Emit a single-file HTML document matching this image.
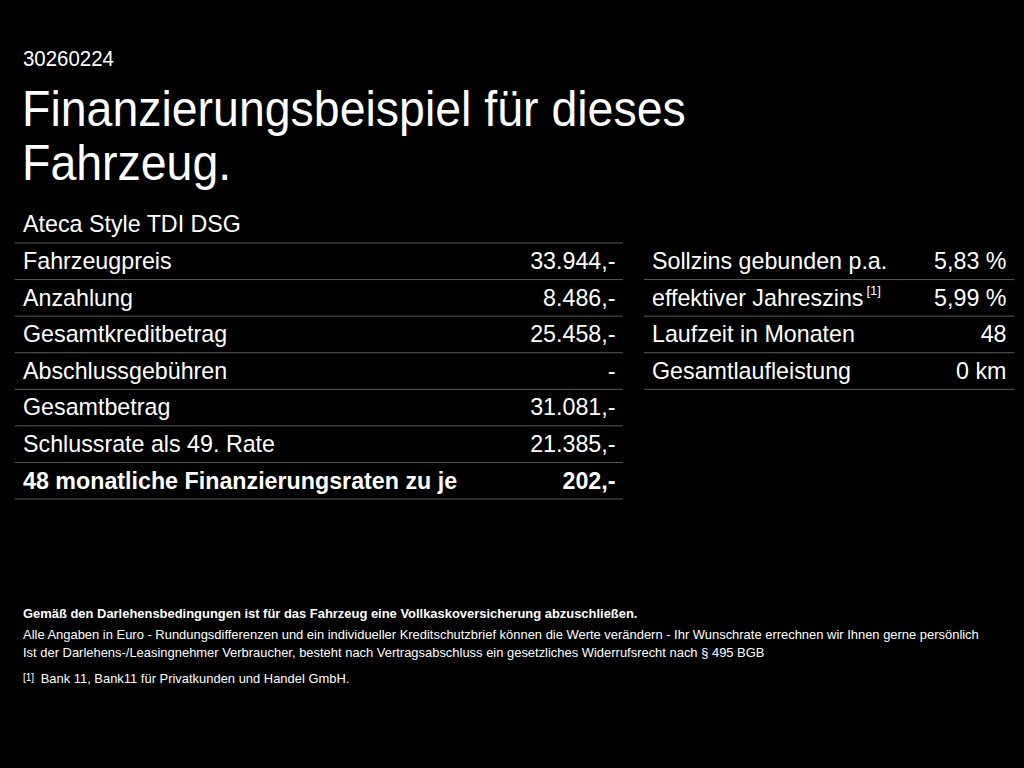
<!DOCTYPE html>
<html>
<head>
<meta charset="utf-8">
<style>
html,body{margin:0;padding:0;background:#000;width:1024px;height:768px;overflow:hidden}
body{position:relative;color:#fff;font-family:"Liberation Sans",sans-serif}
.a{position:absolute;white-space:nowrap;line-height:1}
.id{left:23px;top:48.5px;font-size:21.4px;transform-origin:0 0;transform:scaleX(0.955)}
.t{left:22px;font-size:49.5px;transform-origin:0 0;transform:scaleX(0.9386)}
.t1{top:84px}
.t2{top:138px}
.h{left:23px;top:213px;font-size:23.25px}
.lines{position:absolute;left:0;top:0}
.c{position:absolute;font-size:23.25px;margin-top:1.5px;line-height:1;white-space:nowrap}
.cl{left:23px}
.cr{right:408.5px;text-align:right}
.rl{left:652px}
.rr{right:17.5px;text-align:right}
.b{font-weight:bold}
sup.s{font-size:13px;vertical-align:0;position:relative;top:-11px;margin-left:3px}
.f{position:absolute;left:23px;font-size:12.95px;margin-top:1px;line-height:1;white-space:nowrap}
</style>
</head>
<body>
<div class="a id">30260224</div>
<div class="a t t1">Finanzierungsbeispiel für dieses</div>
<div class="a t t2">Fahrzeug.</div>
<div class="a h">Ateca Style TDI DSG</div>



<svg class="lines" width="1024" height="768" viewBox="0 0 1024 768" fill="#5a5a5a"><rect x="14.8" y="242.50" width="608" height="1"/><rect x="14.8" y="279.07" width="608" height="1"/><rect x="643.8" y="279.07" width="370.6" height="1"/><rect x="14.8" y="315.64" width="608" height="1"/><rect x="643.8" y="315.64" width="370.6" height="1"/><rect x="14.8" y="352.21" width="608" height="1"/><rect x="643.8" y="352.21" width="370.6" height="1"/><rect x="14.8" y="388.79" width="608" height="1"/><rect x="643.8" y="388.79" width="370.6" height="1"/><rect x="14.8" y="425.36" width="608" height="1"/><rect x="14.8" y="461.93" width="608" height="1"/><rect x="14.8" y="498.50" width="608" height="1"/></svg>
<div class="c cl" style="top:248px">Fahrzeugpreis</div>
<div class="c cr" style="top:248px">33.944,-</div>
<div class="c cl" style="top:285px">Anzahlung</div>
<div class="c cr" style="top:285px">8.486,-</div>
<div class="c cl" style="top:321px">Gesamtkreditbetrag</div>
<div class="c cr" style="top:321px">25.458,-</div>
<div class="c cl" style="top:358px">Abschlussgebühren</div>
<div class="c cr" style="top:358px">-</div>
<div class="c cl" style="top:394px">Gesamtbetrag</div>
<div class="c cr" style="top:394px">31.081,-</div>
<div class="c cl" style="top:431px">Schlussrate als 49. Rate</div>
<div class="c cr" style="top:431px">21.385,-</div>
<div class="c cl b" style="top:468px">48 monatliche Finanzierungsraten zu je</div>
<div class="c cr b" style="top:468px">202,-</div>

<div class="c rl" style="top:248px">Sollzins gebunden p.a.</div>
<div class="c rr" style="top:248px">5,83 %</div>
<div class="c rl" style="top:285px">effektiver Jahreszins<sup class="s">[1]</sup></div>
<div class="c rr" style="top:285px">5,99 %</div>
<div class="c rl" style="top:321px">Laufzeit in Monaten</div>
<div class="c rr" style="top:321px">48</div>
<div class="c rl" style="top:358px">Gesamtlaufleistung</div>
<div class="c rr" style="top:358px">0 km</div>

<div class="f b" style="top:607px">Gemäß den Darlehensbedingungen ist für das Fahrzeug eine Vollkaskoversicherung abzuschließen.</div>
<div class="f" style="top:628px">Alle Angaben in Euro - Rundungsdifferenzen und ein individueller Kreditschutzbrief können die Werte verändern - Ihr Wunschrate errechnen wir Ihnen gerne persönlich</div>
<div class="f" style="top:646px">Ist der Darlehens-/Leasingnehmer Verbraucher, besteht nach Vertragsabschluss ein gesetzliches Widerrufsrecht nach § 495 BGB</div>
<div class="f" style="top:672px"><span style="font-size:10px;position:relative;top:-2px">[1]</span><span style="margin-left:6.5px">Bank 11, Bank11 für Privatkunden und Handel GmbH.</span></div>
</body>
</html>
